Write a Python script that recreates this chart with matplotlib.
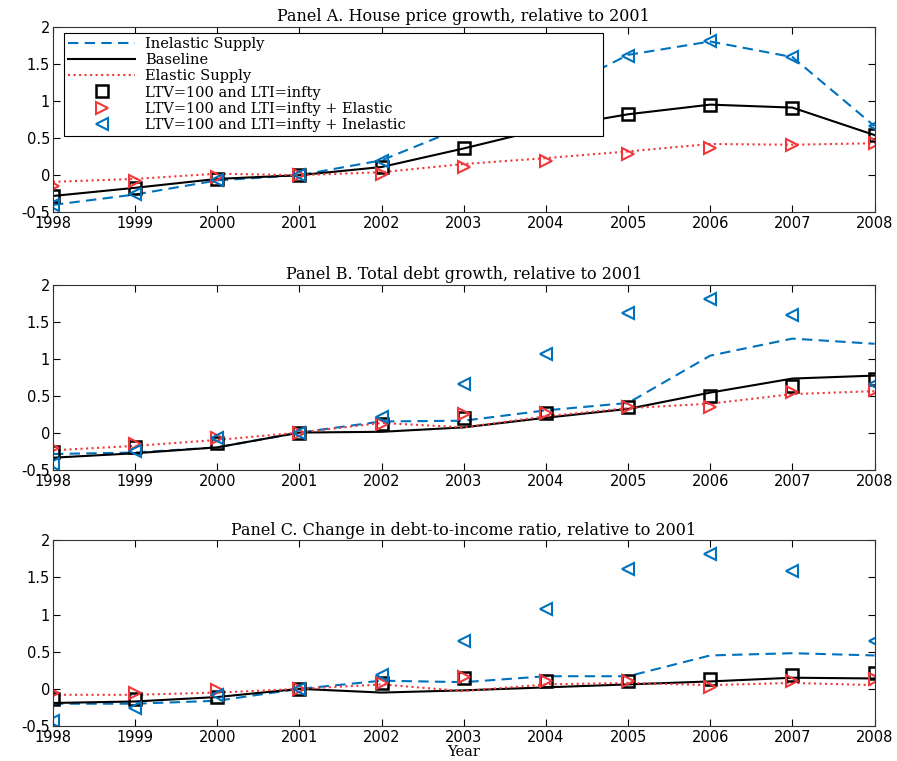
import matplotlib
matplotlib.use("Agg")
import matplotlib.pyplot as plt

# ==========================================
# DATA
# ==========================================
YEARS = [1998, 1999, 2000, 2001, 2002, 2003, 2004, 2005, 2006, 2007, 2008]

# Panel A. House price growth
A_INELASTIC = [-0.40, -0.26, -0.07, 0.0, 0.20, 0.65, 1.06, 1.62, 1.80, 1.59, 0.66]
A_BASELINE = [-0.28, -0.17, -0.05, 0.0, 0.11, 0.36, 0.63, 0.82, 0.95, 0.91, 0.54]
A_ELASTIC = [-0.09, -0.05, 0.02, 0.0, 0.04, 0.15, 0.23, 0.32, 0.42, 0.41, 0.43]
A_LTV = [-0.28, -0.17, -0.05, 0.0, 0.11, 0.36, 0.63, 0.82, 0.95, 0.91, 0.54]
A_LTV_EL = [-0.14, -0.08, -0.02, 0.0, 0.02, 0.11, 0.19, 0.28, 0.36, 0.40, 0.43]
A_LTV_INEL = [-0.40, -0.25, -0.07, 0.0, 0.19, 0.65, 1.06, 1.61, 1.80, 1.59, 0.66]

# Panel B. Total debt growth
B_INELASTIC = [-0.29, -0.27, -0.20, 0.0, 0.15, 0.16, 0.30, 0.40, 1.04, 1.27, 1.20]
B_BASELINE = [-0.34, -0.28, -0.20, 0.0, 0.01, 0.07, 0.20, 0.32, 0.54, 0.73, 0.77]
B_ELASTIC = [-0.24, -0.18, -0.10, 0.0, 0.13, 0.07, 0.22, 0.33, 0.39, 0.52, 0.56]
B_LTV = [-0.26, -0.20, -0.14, 0.0, 0.12, 0.20, 0.26, 0.35, 0.50, 0.63, 0.73]
B_LTV_EL = [-0.21, -0.16, -0.07, 0.0, 0.11, 0.25, 0.27, 0.35, 0.35, 0.55, 0.58]
B_LTV_INEL = [-0.42, -0.25, -0.07, 0.0, 0.21, 0.65, 1.06, 1.62, 1.80, 1.59, 0.65]

# Panel C. Change in debt-to-income ratio
C_INELASTIC = [-0.20, -0.20, -0.16, 0.0, 0.11, 0.09, 0.17, 0.17, 0.45, 0.48, 0.45]
C_BASELINE = [-0.19, -0.17, -0.11, 0.0, -0.05, -0.02, 0.02, 0.06, 0.10, 0.15, 0.14]
C_ELASTIC = [-0.08, -0.08, -0.05, 0.0, 0.06, -0.03, 0.06, 0.08, 0.05, 0.08, 0.05]
C_LTV = [-0.13, -0.14, -0.11, 0.0, 0.08, 0.15, 0.10, 0.10, 0.13, 0.18, 0.21]
C_LTV_EL = [-0.05, -0.06, -0.02, 0.0, 0.08, 0.16, 0.10, 0.10, 0.03, 0.10, 0.13]
C_LTV_INEL = [-0.43, -0.26, -0.08, 0.0, 0.19, 0.65, 1.07, 1.62, 1.81, 1.59, 0.65]

TITLES = [
    "Panel A. House price growth, relative to 2001",
    "Panel B. Total debt growth, relative to 2001",
    "Panel C. Change in debt-to-income ratio, relative to 2001",
]
LABELS = [
    "Inelastic Supply",
    "Baseline",
    "Elastic Supply",
    "LTV=100 and LTI=infty",
    "LTV=100 and LTI=infty + Elastic",
    "LTV=100 and LTI=infty + Inelastic",
]
YTICKS = [-0.5, 0, 0.5, 1, 1.5, 2]
YTICK_LABELS = ["-0.5", "0", "0.5", "1", "1.5", "2"]

BLUE = "#0072BD"
RED = "#F0383A"
SERIF = "DejaVu Serif"
TICKFONT = "DejaVu Sans"

panels = [
    (A_INELASTIC, A_BASELINE, A_ELASTIC, A_LTV, A_LTV_EL, A_LTV_INEL),
    (B_INELASTIC, B_BASELINE, B_ELASTIC, B_LTV, B_LTV_EL, B_LTV_INEL),
    (C_INELASTIC, C_BASELINE, C_ELASTIC, C_LTV, C_LTV_EL, C_LTV_INEL),
]

# axes rectangles in figure fractions (left, bottom, width, height)
positions = [
    (0.059, 0.721, 0.916, 0.244),
    (0.059, 0.383, 0.916, 0.243),
    (0.059, 0.046, 0.916, 0.244),
]

fig = plt.figure(figsize=(8.97, 7.61), dpi=100)

for i, (data, pos, title) in enumerate(zip(panels, positions, TITLES)):
    inel, base, elas, ltv, ltv_el, ltv_inel = data
    ax = fig.add_axes(pos)

    ax.plot(YEARS, inel, "--", color=BLUE, lw=1.5, dashes=(5, 3), label=LABELS[0])
    ax.plot(YEARS, base, "-", color="black", lw=1.5, label=LABELS[1])
    ax.plot(YEARS, elas, ":", color=RED, lw=1.5, label=LABELS[2])
    ax.plot(YEARS, ltv, "s", color="black", mfc="none", mew=1.8, ms=8, label=LABELS[3])
    ax.plot(YEARS, ltv_el, ">", color=RED, mfc="none", mew=1.5, ms=9, label=LABELS[4])
    ax.plot(YEARS, ltv_inel, "<", color=BLUE, mfc="none", mew=1.5, ms=9, label=LABELS[5])

    ax.set_xlim(1998, 2008)
    ax.set_ylim(-0.5, 2)
    ax.set_xticks(YEARS)
    ax.set_xticklabels([str(y) for y in YEARS], fontsize=10.5, family=TICKFONT)
    ax.set_yticks(YTICKS)
    ax.set_yticklabels(YTICK_LABELS, fontsize=10.5, family=TICKFONT)
    ax.tick_params(direction="in", top=True, right=True, length=5, width=0.8, pad=2)
    ax.tick_params(axis="x", pad=3)
    for sp in ax.spines.values():
        sp.set_linewidth(0.8)
        sp.set_color("#333333")
    ax.set_title(title, family=SERIF, fontsize=11.5, pad=4)

    if i == 0:
        # legend box stretched to the width used in the original
        leg = ax.legend(loc="upper left", bbox_to_anchor=(0.013, 0.968, 0.656, 0.0),
                        mode="expand", prop={"family": SERIF, "size": 10.5},
                        handlelength=4.6, borderaxespad=0, labelspacing=0.15,
                        fancybox=False, framealpha=1, edgecolor="black",
                        borderpad=0.3, handletextpad=0.7)
        leg.get_frame().set_linewidth(0.8)
    if i == 2:
        ax.set_xlabel("Year", family=SERIF, fontsize=10.5, labelpad=0)

plt.savefig("out.png", dpi=100)
